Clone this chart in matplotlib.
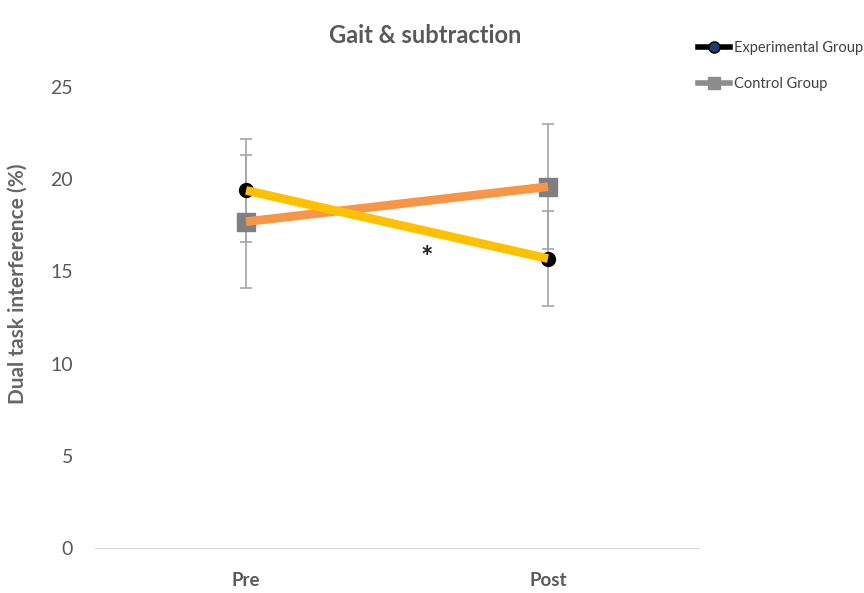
import matplotlib.pyplot as plt
import numpy as np

plt.rcParams["font.family"] = ["Lato", "DejaVu Sans"]

phases = ["Pre", "Post"]
exp_mean = [19.4, 15.7]
exp_err = [2.8, 2.6]
ctrl_mean = [17.7, 19.6]
ctrl_err = [3.6, 3.4]
yticks = [0, 5, 10, 15, 20, 25]

GREY_TXT = "#595959"

fig = plt.figure(figsize=(8.64, 5.93), dpi=100)
ax = fig.add_axes([0.110, 0.076, 0.699, 0.777])
x = np.arange(len(phases))

# error bars behind everything
ax.errorbar(x, ctrl_mean, yerr=ctrl_err, fmt="none", ecolor="#a6a6a6",
            elinewidth=1.2, capsize=4, capthick=1.2, zorder=1)
ax.errorbar(x, exp_mean, yerr=exp_err, fmt="none", ecolor="#a6a6a6",
            elinewidth=1.2, capsize=4, capthick=1.2, zorder=1)

# markers, then thick lines on top
ax.plot(x, ctrl_mean, ls="none", marker="s", ms=13, color="#7f7f7f", zorder=2)
ax.plot(x, exp_mean, ls="none", marker="o", ms=10, color="black", zorder=2)
ax.plot(x, ctrl_mean, color="#f79646", lw=6.3, solid_capstyle="butt", zorder=3)
ax.plot(x, exp_mean, color="#ffc000", lw=6.3, solid_capstyle="butt", zorder=4)

ax.text(0.6, 15.75, "*", ha="center", va="center", fontsize=21,
        fontweight="bold", color="#222222")

ax.set_xlim(-0.5, 1.5)
ax.set_ylim(0, 25)
ax.set_xticks(x)
ax.set_xticklabels(phases, fontsize=13.5, fontweight="bold", color=GREY_TXT)
ax.set_yticks(yticks)
ax.set_yticklabels([str(v) for v in yticks], fontsize=14, color=GREY_TXT)
ax.tick_params(axis="both", length=0)
ax.tick_params(axis="x", pad=17)
ax.tick_params(axis="y", pad=16)
for side in ["top", "right", "left"]:
    ax.spines[side].set_visible(False)
ax.spines["bottom"].set_color("#d9d9d9")

fig.text(0.021, 0.521, "Dual task interference (%)", rotation=90,
         ha="center", va="center", fontsize=15, fontweight="bold",
         color="#666666")
fig.text(0.492, 0.94, "Gait & subtraction", ha="center", va="center",
         fontsize=17, fontweight="bold", color=GREY_TXT)

h1, = ax.plot([], [], color="black", lw=4, marker="o", ms=8,
              markeredgecolor="black", markerfacecolor="#1f3b73")
h2, = ax.plot([], [], color="#8c8c8c", lw=4, marker="s", ms=8)
fig.legend([h1, h2], ["Experimental Group", "Control Group"],
           loc="upper left", bbox_to_anchor=(0.801, 0.941), frameon=False,
           fontsize=10.5, handlelength=2.2, handletextpad=0.3, labelspacing=1.55,
           labelcolor="#404040", borderaxespad=0)

fig.savefig("out.png", dpi=100)
